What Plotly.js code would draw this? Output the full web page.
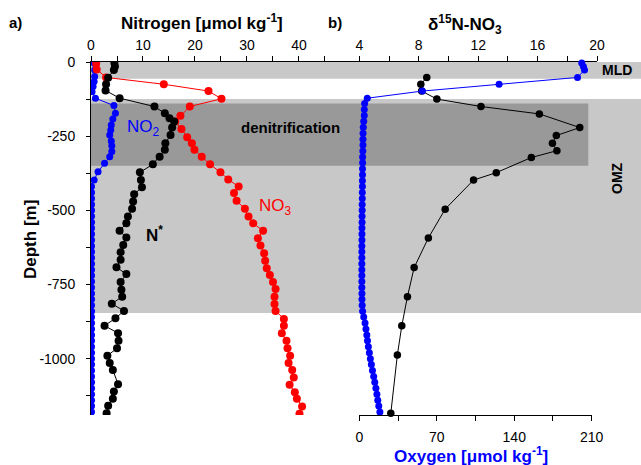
<!DOCTYPE html>
<html>
<head>
<meta charset="utf-8">
<script src="https://cdn.plot.ly/plotly-3.0.1.min.js"></script>
<style>html,body{margin:0;padding:0;background:#fff;}#chart{width:641px;height:465px;}</style>
</head>
<body>
<div id="chart"></div>
<script>
// ---- Panel a: Nitrogen species (umol/kg) vs depth (m) ----
const no3Depth = [-5,-25,-52,-75,-98,-124,-150,-181,-201,-226,-254,-274,-296,-319,-345,-372,-396,-420,-442,-468,-495,-521,-544,-569,-594,-619,-645,-670,-695,-718,-742,-765,-791,-816,-839,-866,-889,-914,-940,-965,-990,-1015,-1038,-1064,-1088,-1113,-1135,-1161,-1186];
const no3Val   = [1.0,1.1,2.9,14.0,22.6,25.1,19.0,17.2,16.2,17.4,18.5,19.4,19.9,21.3,22.9,24.9,26.4,28.4,27.5,28.0,29.6,30.3,31.2,33.1,32.1,32.6,33.3,33.5,33.8,34.4,35.0,35.5,35.3,35.3,35.5,37.1,37.1,36.7,37.6,37.8,38.3,38.0,38.7,39.0,38.2,39.2,39.6,40.6,40.1];

const nstarDepth = [-3,-15,-27,-53,-75,-96,-122,-150,-173,-190,-201,-221,-246,-274,-296,-319,-345,-372,-398,-422,-446,-470,-495,-521,-544,-569,-592,-617,-641,-667,-692,-715,-742,-768,-791,-815,-839,-864,-889,-914,-940,-965,-990,-1015,-1038,-1086,-1111,-1135,-1159,-1184];
const nstarVal   = [4.5,4.6,4.4,3.3,2.9,2.8,5.5,12.2,14.2,15.1,16.0,15.6,15.3,14.3,14.2,13.2,11.9,9.4,9.6,9.8,8.3,8.1,7.9,7.1,6.8,5.5,6.8,6.2,5.7,5.7,4.9,6.8,5.7,5.85,6.0,4.0,6.35,4.7,2.6,5.2,5.3,5.0,3.15,3.6,4.2,5.2,4.4,4.2,3.3,3.0];

const no2Depth = [-4,-27,-49,-66,-83,-100,-122,-147,-173,-192,-212,-229,-246,-266,-282,-302,-319,-341,-370,-398,
  -420,-440,-460,-480,-500,-520,-540,-560,-580,-600,-620,-640,-660,-680,-700,-720,-740,-760,-780,-800,
  -820,-840,-860,-880,-900,-920,-940,-960,-980,-1000,-1020,-1040,-1060,-1080,-1100,-1120,-1140,-1160,-1180];
const no2Val   = [0.6,0.7,0.7,0.6,0.4,0.2,0.85,4.4,4.7,4.2,3.9,3.8,3.6,3.9,4.0,4.0,3.6,2.6,1.35,0.6,
  0.1,0.1,0.1,0.1,0.1,0.1,0.1,0.1,0.1,0.1,0.1,0.1,0.1,0.1,0.1,0.1,0.1,0.1,0.1,0.1,
  0.1,0.1,0.1,0.1,0.1,0.1,0.1,0.1,0.1,0.1,0.1,0.1,0.1,0.1,0.1,0.1,0.1,0.1,0.1];

// ---- Panel b: d15N-NO3 (permil) and Oxygen (umol/kg) vs depth ----
const d15nDepth = [-52,-75,-98,-125,-150,-175,-221,-248,-274,-299,-322,-373,-398,-496,-593,-693,-791,-889,-988,-1184];
const d15nVal   = [8.54,8.14,8.2,9.22,12.19,16.12,18.84,17.26,17.0,17.3,15.58,13.22,11.69,9.78,8.65,7.69,7.24,6.86,6.56,6.12];

const o2Depth = [-3,-15,-27,-52,-75,-98,-122,
  -140,-160,-180,-200,-220,-240,-260,-280,-300,-320,
  -340,-360,-380,-400,-420,-440,-460,-480,-500,-520,
  -540,-560,-580,-600,-620,-640,-660,-680,-700,-720,
  -740,-760,-780,-800,-820,-840,-860,-880,-900,-920,
  -940,-960,-980,-1000,-1020,-1040,-1060,-1080,-1100,-1120,
  -1140,-1160,-1180];
const o2Val = [201,202.5,203.5,197.2,126.3,57.0,7.2,
  4.8,4.5,4.5,4.0,3.6,3.4,3.3,3.3,3.2,3.0,
  3.0,2.9,2.9,2.8,2.8,2.7,2.7,2.6,2.6,2.5,
  2.5,2.4,2.4,2.4,2.3,2.3,2.3,2.3,2.3,2.3,
  2.3,2.3,2.4,2.4,2.6,3.0,4.0,5.2,6.0,6.8,
  7.4,8.2,9.1,10.0,10.9,11.9,13.0,14.0,15.0,15.9,
  16.7,17.6,18.6];

// ---- Tick values / labels ----
const depthTicks = [0,-125,-250,-375,-500,-625,-750,-875,-1000,-1125];
const depthLabels = ['0','','-250','','-500','','-750','','-1000',''];
const nTicks = [0,5,10,15,20,25,30,35,40,45];
const nLabels = ['0','','10','','20','','30','','40',''];
const dTicks = [4,6,8,10,12,14,16,18,20];
const dLabels = ['4','','8','','12','','16','','20'];
const oTicks = [0,35,70,105,140,175,210];
const oLabels = ['0','','70','','140','','210'];

const FONT = 'Liberation Sans, Arial, Helvetica, sans-serif';
const RED = '#ff0000', BLUE = '#0000ff', BLACK = '#000000';
const LIGHT = '#c8c8c8', DARK = '#999999';

// pixel -> paper helpers for placement (plot area 91..641 x 62..415)
const PL = 91, PW = 550, PT = 62, PH = 353;
const px = x => (x - PL) / PW;
const py = y => (PT + PH - y) / PH;

const traces = [
  {x: no2Val, y: no2Depth, xaxis:'x', yaxis:'y', mode:'lines+markers', line:{color:BLUE,width:1}, marker:{color:BLUE,size:7}},
  {x: no3Val, y: no3Depth, xaxis:'x', yaxis:'y', mode:'lines+markers', line:{color:RED,width:1}, marker:{color:RED,size:8}},
  {x: nstarVal, y: nstarDepth, xaxis:'x', yaxis:'y', mode:'lines+markers', line:{color:BLACK,width:1}, marker:{color:BLACK,size:8}},
  {x: o2Val, y: o2Depth, xaxis:'x3', yaxis:'y', mode:'lines+markers', cliponaxis:false, line:{color:BLUE,width:1}, marker:{color:BLUE,size:7}},
  {x: d15nVal, y: d15nDepth, xaxis:'x2', yaxis:'y', mode:'lines+markers', cliponaxis:false, line:{color:BLACK,width:1}, marker:{color:BLACK,size:7.5}}
];

const axCommon = {
  showline:true, linecolor:BLACK, linewidth:1, ticks:'outside', tickcolor:BLACK, tickwidth:1,
  showgrid:false, zeroline:false, tickfont:{family:FONT,size:14,color:BLACK}, fixedrange:true
};

const layout = {
  width:641, height:465,
  margin:{l:PL, r:0, t:PT, b:465-PT-PH, pad:0},
  paper_bgcolor:'#ffffff', plot_bgcolor:'rgba(0,0,0,0)',
  showlegend:false, hovermode:false,
  font:{family:FONT, color:BLACK},
  xaxis: Object.assign({}, axCommon, {domain:[0, px(326)], range:[0,45.2], side:'top', anchor:'y',
    tickmode:'array', tickvals:nTicks, ticktext:nLabels, ticklen:5, ticklabelstandoff:0}),
  xaxis2: Object.assign({}, axCommon, {domain:[px(325), px(597)], range:[1.69,20], side:'top', anchor:'y',
    tickmode:'array', tickvals:dTicks, ticktext:dLabels, ticklen:5, ticklabelstandoff:0}),
  xaxis3: Object.assign({}, axCommon, {domain:[px(359.3), px(591.7)], range:[0,210], side:'bottom', anchor:'y',
    tickmode:'array', tickvals:oTicks, ticktext:oLabels, ticklen:5, ticklabelstandoff:4}),
  yaxis: Object.assign({}, axCommon, {domain:[0,1], range:[-1190,0], anchor:'x',
    tickmode:'array', tickvals:depthTicks, ticktext:depthLabels, ticklen:4, ticklabelstandoff:8}),
  shapes: [
    // MLD band, OMZ band, denitrification band
    {type:'rect', xref:'paper', yref:'paper', x0:0, x1:1, y0:py(62), y1:py(78.7), fillcolor:LIGHT, line:{width:0}, layer:'below'},
    {type:'rect', xref:'paper', yref:'paper', x0:0, x1:1, y0:py(99), y1:py(313), fillcolor:LIGHT, line:{width:0}, layer:'below'},
    {type:'rect', xref:'paper', yref:'paper', x0:0, x1:px(588.3), y0:py(103.5), y1:py(165.8), fillcolor:DARK, line:{width:0}, layer:'below'}
  ],
  annotations: [
    {text:'<b>a)</b>', x:px(15), y:py(22), font:{size:15}},
    {text:'<b>Nitrogen [μmol kg<sup>-1</sup>]</b>', x:px(202), y:py(22), font:{size:17}},
    {text:'<b>b)</b>', x:px(335), y:py(22), font:{size:15}},
    {text:'<b>δ<sup>15</sup>N-NO<sub>3</sub></b>', x:px(465), y:py(24), font:{size:17}},
    {text:'<b>Oxygen [μmol kg<sup>-1</sup>]</b>', x:px(471), y:py(455), font:{size:17, color:BLUE}},
    {text:'<b>Depth [m]</b>', x:px(30), y:py(240), textangle:-90, font:{size:17}},
    {text:'<b>MLD</b>', x:px(617), y:py(70), font:{size:14}},
    {text:'<b>OMZ</b>', x:px(617), y:py(178), textangle:-90, font:{size:14}},
    {text:'<b>denitrification</b>', x:px(290), y:py(127), font:{size:15}},
    {text:'NO<sub>2</sub>', x:px(143), y:py(128), font:{size:17, color:BLUE}},
    {text:'NO<sub>3</sub>', x:px(275), y:py(207), font:{size:17, color:RED}},
    {text:'<b>N<sup>*</sup></b>', x:px(154), y:py(234), font:{size:17, color:BLACK}}
  ].map(a => Object.assign({xref:'paper', yref:'paper', showarrow:false, xanchor:'center', yanchor:'middle'}, a,
      {font:Object.assign({family:FONT, color:BLACK}, a.font)}))
};

Plotly.newPlot('chart', traces, layout, {staticPlot:true, displayModeBar:false});
</script>
</body>
</html>
